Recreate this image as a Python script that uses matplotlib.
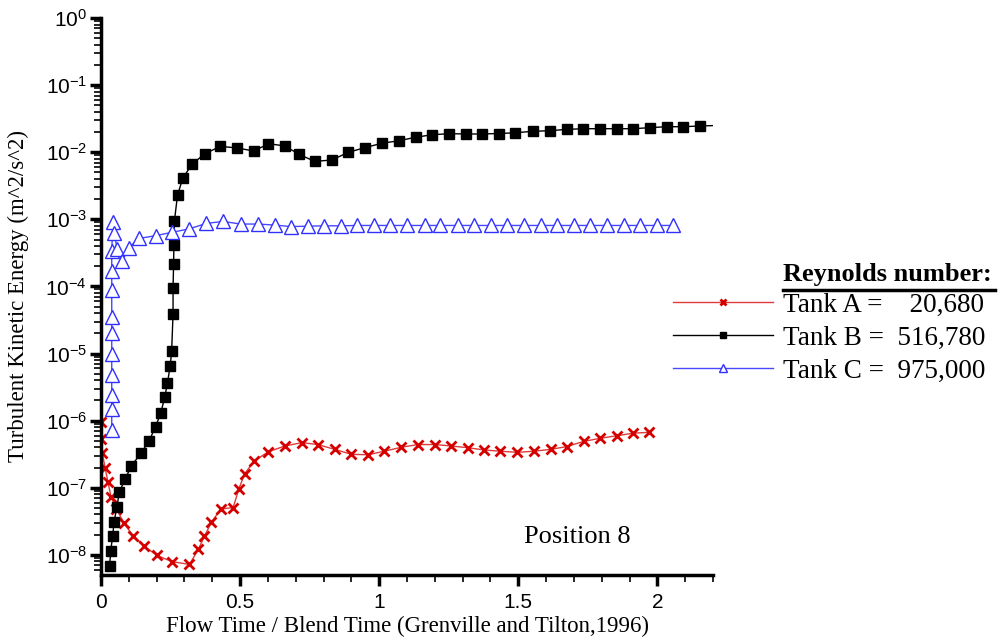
import numpy as np
import matplotlib
matplotlib.use('Agg')
import matplotlib.pyplot as plt
from matplotlib.lines import Line2D
from matplotlib.ticker import LogLocator, MultipleLocator, FuncFormatter

plt.rcParams['font.family'] = 'Liberation Sans'
plt.rcParams['mathtext.default'] = 'regular'

# Tank A (red, x markers)
xa = [0.0, 0.001, 0.005, 0.0145, 0.025, 0.036, 0.055, 0.083, 0.1155, 0.156, 0.201, 0.256, 0.318,
      0.35, 0.372, 0.397, 0.43, 0.475, 0.496, 0.516, 0.55, 0.602, 0.662, 0.722, 0.78, 0.84, 0.9,
      0.959, 1.019, 1.078, 1.139, 1.2, 1.257, 1.318, 1.378, 1.436, 1.496, 1.556, 1.616, 1.674,
      1.735, 1.794, 1.855, 1.913, 1.971]
ya = [9.6e-7, 5.3e-7, 3.26e-7, 1.99e-7, 1.22e-7, 7.3e-8, 4.9e-8, 2.94e-8, 1.92e-8, 1.34e-8, 9.8e-9,
      7.9e-9, 7.2e-9, 1.21e-8, 1.9e-8, 3.05e-8, 4.8e-8, 5.07e-8, 9.7e-8, 1.6e-7, 2.5e-7, 3.44e-7,
      4.2e-7, 4.7e-7, 4.4e-7, 3.73e-7, 3.15e-7, 3.1e-7, 3.5e-7, 4.0e-7, 4.4e-7, 4.4e-7, 4.2e-7,
      3.95e-7, 3.65e-7, 3.5e-7, 3.37e-7, 3.5e-7, 3.73e-7, 4.1e-7, 4.9e-7, 5.45e-7, 5.96e-7,
      6.5e-7, 6.7e-7]

# Tank B (black, squares); last point only continues the line
xb = [0.031, 0.035, 0.042, 0.047, 0.057, 0.066, 0.086, 0.109, 0.143, 0.172, 0.196, 0.215, 0.229,
      0.239, 0.249, 0.254, 0.259, 0.259, 0.261, 0.262, 0.264, 0.275, 0.294, 0.327, 0.373, 0.429,
      0.488, 0.55, 0.602, 0.661, 0.712, 0.768, 0.83, 0.889, 0.949, 1.01, 1.07, 1.131, 1.19, 1.252,
      1.312, 1.371, 1.431, 1.49, 1.552, 1.613, 1.675, 1.734, 1.792, 1.855, 1.913, 1.972, 2.034,
      2.093, 2.154, 2.21]
yb = [6.9e-9, 1.15e-8, 1.93e-8, 3.08e-8, 5.2e-8, 8.6e-8, 1.33e-7, 2.1e-7, 3.26e-7, 4.9e-7, 8.1e-7,
      1.31e-6, 2.22e-6, 3.67e-6, 6.6e-6, 1.1e-5, 3.9e-5, 9.6e-5, 2.16e-4, 4.1e-4, 9.5e-4, 2.28e-3,
      4.1e-3, 6.6e-3, 9.5e-3, 1.22e-2, 1.16e-2, 1.04e-2, 1.34e-2, 1.24e-2, 9.3e-3, 7.3e-3, 7.65e-3,
      9.97e-3, 1.17e-2, 1.36e-2, 1.48e-2, 1.67e-2, 1.82e-2, 1.89e-2, 1.87e-2, 1.87e-2, 1.9e-2,
      1.95e-2, 2.05e-2, 2.09e-2, 2.19e-2, 2.24e-2, 2.24e-2, 2.24e-2, 2.24e-2, 2.32e-2, 2.4e-2,
      2.4e-2, 2.46e-2, 2.5e-2]

# Tank C (blue, open triangles)
xc = [0.0386, 0.0386, 0.0386, 0.0386, 0.0386, 0.0386, 0.0386, 0.0386, 0.0386, 0.0386, 0.043,
      0.048, 0.058, 0.077, 0.099, 0.138, 0.196, 0.255, 0.317, 0.379, 0.439, 0.502, 0.564, 0.626,
      0.682, 0.744, 0.802, 0.863, 0.921, 0.982, 1.04, 1.101, 1.163, 1.22, 1.282, 1.34, 1.401,
      1.459, 1.52, 1.581, 1.639, 1.7, 1.758, 1.819, 1.88, 1.939, 2.0, 2.058]
yc = [7.2e-7, 1.47e-6, 2.41e-6, 4.83e-6, 1.0e-5, 2.0e-5, 3.53e-5, 8.8e-5, 1.71e-4, 3.4e-4, 9.2e-4,
      6.2e-4, 3.57e-4, 2.39e-4, 3.78e-4, 5.2e-4, 5.7e-4, 6.4e-4, 7.2e-4, 8.7e-4, 9.3e-4, 8.5e-4,
      8.5e-4, 8.2e-4, 7.8e-4, 7.9e-4, 8.0e-4, 8.0e-4, 8.1e-4, 8.1e-4, 8.1e-4, 8.1e-4, 8.1e-4,
      8.1e-4, 8.1e-4, 8.1e-4, 8.1e-4, 8.1e-4, 8.1e-4, 8.1e-4, 8.1e-4, 8.1e-4, 8.1e-4, 8.1e-4,
      8.1e-4, 8.1e-4, 8.1e-4, 8.1e-4]

labels = ['Tank A =    20,680', 'Tank B =  516,780', 'Tank C =  975,000']

fig = plt.figure(figsize=(10, 6.43), dpi=100)
ax = fig.add_axes([0.101, 0.1058, 0.612, 0.8662])

la, = ax.plot(xa, ya, color='#e03a3a', lw=1, marker='x', ms=7.5, mew=2,
              mec='#d40000', label=labels[0])
lb, = ax.plot(xb, yb, color='black', lw=1, marker='s', ms=6.5,
              markevery=list(range(len(xb) - 1)), label=labels[1])
lc, = ax.plot(xc, yc, color='#4848ff', lw=1, marker='^', ms=10, mfc='white',
              mec='#3030ff', mew=1, label=labels[2])

ax.set_yscale('log')
ax.set_xlim(0, 2.2)
ax.set_ylim(10 ** -8.3, 1)
ax.yaxis.set_major_locator(LogLocator(base=10, numticks=20))
ax.yaxis.set_minor_locator(LogLocator(base=10, subs=np.arange(2, 10), numticks=20))
ax.xaxis.set_major_locator(MultipleLocator(0.5))
ax.xaxis.set_minor_locator(MultipleLocator(0.1))
ax.xaxis.set_major_formatter(FuncFormatter(lambda v, p: '%g' % v))

for s in ['top', 'right']:
    ax.spines[s].set_visible(False)
for s in ['left', 'bottom']:
    ax.spines[s].set_linewidth(2.5)
ax.tick_params(which='major', direction='out', length=8, width=2.5, labelsize=15, pad=2)
ax.tick_params(axis='x', which='major', pad=5)
ax.tick_params(which='minor', direction='out', length=5, width=1.2)

ax.set_xlabel('Flow Time / Blend Time (Grenville and Tilton,1996)',
              family='Liberation Serif', fontsize=16.5, labelpad=3)
ax.set_ylabel('Turbulent Kinetic Energy (m^2/s^2)', family='Liberation Serif', fontsize=16.5)
ax.yaxis.set_label_coords(-0.117, 0.5)

ax.text(0.779, 0.068, 'Position 8', transform=ax.transAxes, ha='center', va='center',
        family='Liberation Serif', fontsize=19)

leg = fig.legend(handles=[la, lb, lc], loc='center left', bbox_to_anchor=(0.673, 0.474),
                 frameon=False, borderpad=0, borderaxespad=0, handlelength=3.7,
                 handletextpad=0.37, labelspacing=0.3, markerscale=0.6,
                 prop={'family': 'Liberation Serif', 'size': 19.5})

fig.text(0.783, 1 - 275 / 643, 'Reynolds number:', family='Liberation Serif', fontsize=19,
         weight='bold', va='center', ha='left')
fig.add_artist(Line2D([0.783, 0.995], [1 - 290 / 643] * 2, color='black', lw=2.5))

fig.savefig('out.png', dpi=100)
